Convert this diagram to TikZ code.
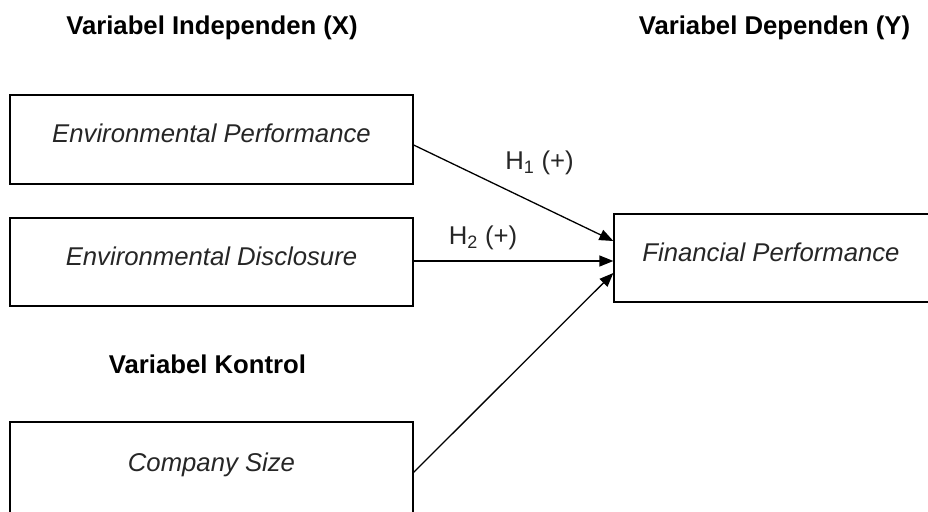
\documentclass[tikz,border=0pt]{standalone}
\usepackage{fontspec}
\setmainfont{Liberation Sans}
\usetikzlibrary{arrows.meta}
\tikzset{
  box/.style={draw=black, line width=1.3pt, rectangle, inner sep=0pt,
    font=\fontsize{25.7}{30}\selectfont\itshape, text=black!85,
    text height=18.4pt, text depth=12pt},
  head/.style={font=\fontsize{25.7}{30}\selectfont\bfseries, text=black, inner sep=0pt},
  lbl/.style={font=\fontsize{25.7}{30}\selectfont, text=black!85, inner sep=0pt},
  link/.style={line width=1.3pt, -{Triangle[length=14pt,width=11pt]}}
}
\begin{document}
\begin{tikzpicture}[x=1pt,y=-1pt]
\useasboundingbox (0,0) rectangle (928,511);
\clip (0,0) rectangle (928,511);
\fill[white] (0,0) rectangle (928,511);
\node[head] (hx) at (212,28) {Variabel Independen (X)};
\node[head] (hy) at (774.5,28) {Variabel Dependen (Y)};
\node[head] (hk) at (207.5,364) {Variabel Kontrol};
\node[box, minimum width=403pt, minimum height=89pt] (ep) at (211.5,139.5) {Environmental Performance};
\node[box, minimum width=403pt, minimum height=88pt] (ed) at (211.5,262) {Environmental Disclosure};
\node[box, minimum width=403pt, minimum height=93pt] (cs) at (211.5,468.5) {Company Size};
\node[box, minimum width=346pt, minimum height=88pt] (fp) at (787,258) {\hspace*{-32pt}Financial Performance};
\draw[link] ([yshift=-5.5pt]ep.east) -- ([yshift=17pt]fp.west);
\draw[link] ([yshift=1pt]ed.east) -- ([yshift=-3pt]fp.west);
\draw[link] ([yshift=-51pt]cs.north east) -- ([yshift=-15pt]fp.west);
\node[lbl] (h1) at (539.5,163) {H\textsubscript{1} (+)};
\node[lbl] (h2) at (483,238) {H\textsubscript{2} (+)};
\end{tikzpicture}
\end{document}
